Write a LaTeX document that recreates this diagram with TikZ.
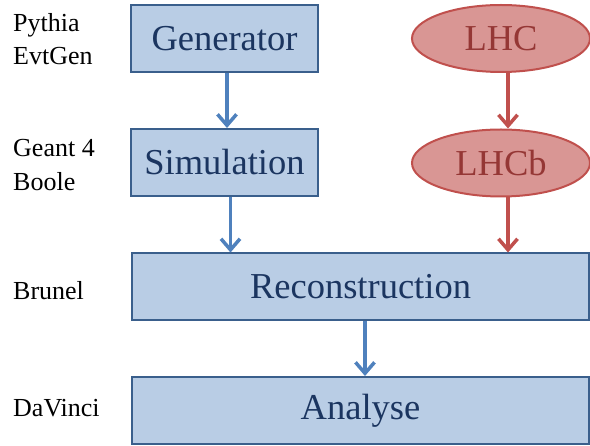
\documentclass[tikz,border=0pt]{standalone}
\usepackage{fontspec}
\setmainfont{Liberation Serif}
\usepackage{xcolor}
\usetikzlibrary{shapes,arrows.meta,positioning,calc}

\definecolor{boxfill}{HTML}{B9CDE5}
\definecolor{boxline}{HTML}{3A5F8C}
\definecolor{boxtext}{HTML}{1B3560}
\definecolor{flowblue}{HTML}{4F81BD}
\definecolor{ovalfill}{HTML}{D99694}
\definecolor{ovalline}{HTML}{C0504D}
\definecolor{ovaltext}{HTML}{953735}

\begin{document}
\begin{tikzpicture}[x=1pt, y=-1pt,
    stage/.style={draw=boxline, fill=boxfill, line width=2pt, text=boxtext,
        font=\fontsize{36.5}{40}\selectfont, minimum height=67pt, inner sep=0pt},
    source/.style={ellipse, draw=ovalline, fill=ovalfill, line width=2pt, text=ovaltext,
        font=\fontsize{36.5}{40}\selectfont, minimum width=178pt, minimum height=67pt, inner sep=0pt},
    tool/.style={anchor=west, align=left, inner sep=0pt,
        font=\fontsize{26}{33.5}\selectfont},
    flow/.style={draw=flowblue, line width=3.5pt, -{Straight Barb[length=11pt,width=19pt]}},
    redflow/.style={flow, draw=ovalline}]
    \useasboundingbox (0,0) rectangle (590,446);

    % Processing stages
    \node[stage, minimum width=187pt] (gen) at (224.5,38.5) {Generator};
    \node[stage, minimum width=187pt] (sim) at (224.5,162.5) {Simulation};
    \node[stage, minimum width=457pt] (reco) at (360.5,287) {Reconstruction};
    \node[stage, minimum width=457pt] (ana) at (360.5,410.5) {Analyse};

    % Real data
    \node[source] (lhc) at (501,38.5) {LHC};
    \node[source] (lhcb) at (501,163) {LHCb};

    % Software names
    \node[tool] (pythia) at (13,39) {Pythia\\EvtGen};
    \node[tool] (geant) at (13,165) {Geant 4\\Boole};
    \node[tool] (brunel) at (13,291) {Brunel};
    \node[tool] (davinci) at (13,408) {DaVinci};

    % Data flow
    \draw[flow] ([xshift=2.5pt]gen.south) -- ([xshift=2.5pt]sim.north);
    \draw[flow] ([xshift=6pt]sim.south) -- ([xshift=6pt]sim.south |- reco.north);
    \draw[flow] ([xshift=4.5pt]reco.south) -- ([xshift=4.5pt]ana.north);
    \draw[redflow] ([xshift=7pt]lhc.south) -- ([xshift=7pt]lhcb.north);
    \draw[redflow] ([xshift=7pt]lhcb.south) -- ([xshift=7pt]lhcb.south |- reco.north);
\end{tikzpicture}
\end{document}
